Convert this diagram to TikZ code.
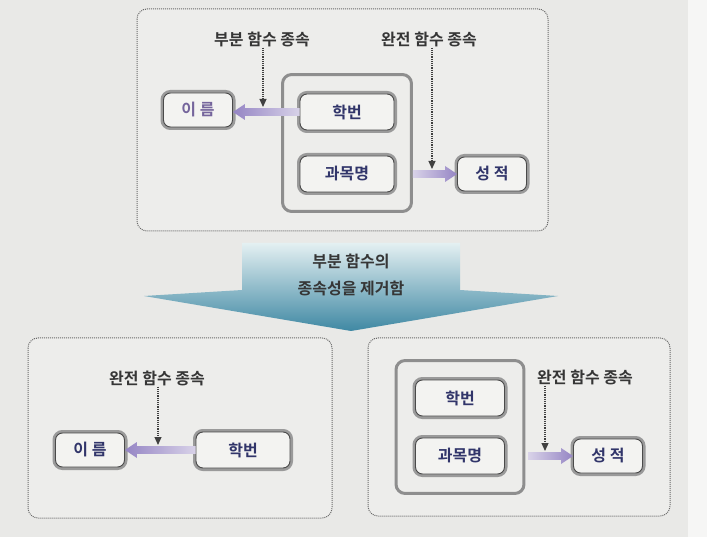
\documentclass[tikz,border=0pt]{standalone}
\usepackage{fontspec}
\usetikzlibrary{arrows.meta,calc,fit}
\newfontfamily\kr{Noto Sans CJK KR}[BoldFont={Noto Sans CJK KR Bold}]
\definecolor{bg}{HTML}{E9E9E7}
\definecolor{panelfill}{HTML}{EDEDEB}
\definecolor{panelline}{HTML}{6A6A6A}
\definecolor{boxfill}{HTML}{F3F3F1}
\definecolor{boxline}{HTML}{4A4A4A}
\definecolor{boxband}{HTML}{9A9A9A}
\definecolor{grpcol}{HTML}{8E8E8E}
\definecolor{navy}{HTML}{31356A}
\definecolor{lilac}{HTML}{75659C}
\definecolor{lbltext}{HTML}{363636}
\definecolor{dotcol}{HTML}{404040}
\definecolor{fatlight}{HTML}{D8D2E8}
\definecolor{fatdark}{HTML}{9585C4}
\definecolor{bigtop}{HTML}{E4F0F2}
\definecolor{bigmid}{HTML}{8DBFCC}
\definecolor{bigbot}{HTML}{3F88A3}
\newcommand\fatright[2]{%
  \shade[left color=fatlight, right color=fatdark]
    let \p1=(#1), \p2=(#2) in
    (\x1,\y1+3.8pt) -- (\x2-12pt,\y1+3.8pt) -- (\x2-12pt,\y1+8pt) -- (\x2,\y1)
    -- (\x2-12pt,\y1-8pt) -- (\x2-12pt,\y1-3.8pt) -- (\x1,\y1-3.8pt) -- cycle;}
\newcommand\fatleft[2]{%
  \shade[left color=fatdark, right color=fatlight]
    let \p1=(#1), \p2=(#2) in
    (\x1,\y1+3.8pt) -- (\x2+12pt,\y1+3.8pt) -- (\x2+12pt,\y1+8pt) -- (\x2,\y1)
    -- (\x2+12pt,\y1-8pt) -- (\x2+12pt,\y1-3.8pt) -- (\x1,\y1-3.8pt) -- cycle;}
\tikzset{
  keybox/.style={rectangle, rounded corners=7pt, fill=boxfill, draw=boxline,
    line width=0.9pt, preaction={draw=boxband, line width=6pt},
    font=\kr\bfseries\fontsize{16}{18}\selectfont, text=navy, inner sep=0pt},
  widebox/.style={keybox, minimum width=94pt, minimum height=36pt},
  narrowbox/.style={keybox, minimum width=69pt, minimum height=34pt},
  lbl/.style={font=\kr\bfseries\fontsize{16}{18}\selectfont, text=lbltext, inner sep=1pt},
  dotarrow/.style={draw=dotcol, line width=1.2pt, densely dotted,
    -{Triangle[length=8pt,width=7pt]}},
  groupbox/.style={draw=grpcol, line width=3pt, rounded corners=9pt,
    inner xsep=17pt, inner ysep=19pt},
  panel/.style={draw=panelline, line width=1pt, densely dotted, rounded corners=10pt, fill=panelfill},
}
\begin{document}
\begin{tikzpicture}[x=1pt,y=-1pt]
\fill[bg] (0,0) rectangle (707,537);
\fill[white!60!bg] (688,0) rectangle (707,537);
\useasboundingbox (0,0) rectangle (707,537);

% ---------- top panel ----------
\draw[panel] (137,9) rectangle (548,231);
\node[narrowbox, text=lilac] (ireum1) at (198,110) {이 름};
\node[widebox] (hak1) at (347,112) {학번};
\node[widebox] (gwa1) at (347,174) {과목명};
\node[groupbox, fit=(hak1)(gwa1)] (grp1) {};
\node[narrowbox] (grade1) at (492,174) {성 적};
\node[lbl] (lbl1) at (262,39) {부분 함수 종속};
\node[lbl] (lbl2) at (429,39) {완전 함수 종속};
\fatleft{hak1.west}{ireum1.east}
\fatright{grp1.east |- gwa1.center}{grade1.west}
\coordinate (d1) at (263,107);
\coordinate (d2) at (432,169);
\draw[dotarrow] (lbl1.south -| d1) -- (d1);
\draw[dotarrow] (lbl2.south -| d2) -- (d2);

% ---------- big arrow ----------
\shade[top color=bigtop, middle color=bigmid, bottom color=bigbot]
  (242,243) -- (460,243) -- (460,290) -- (558,296) -- (351,331)
  -- (144,296) -- (242,290) -- cycle;
\node[font=\kr\bfseries\fontsize{16}{27}\selectfont, text=lbltext, align=center]
  (bigtxt) at (351,275) {부분 함수의\\종속성을 제거함};

% ---------- bottom-left panel ----------
\draw[panel] (28,338) rectangle (332,518);
\node[narrowbox] (ireum2) at (90,450) {이 름};
\node[widebox] (hak2) at (243,450) {학번};
\node[lbl] (lbl3) at (157,378) {완전 함수 종속};
\fatleft{hak2.west}{ireum2.east}
\coordinate (d3) at (158,445);
\draw[dotarrow] (lbl3.south -| d3) -- (d3);

% ---------- bottom-right panel ----------
\draw[panel] (368,338) rectangle (670,516);
\node[widebox, minimum width=89pt] (hak3) at (460,398) {학번};
\node[widebox, minimum width=89pt] (gwa3) at (460,456) {과목명};
\node[groupbox, inner xsep=19pt, inner ysep=19pt, fit=(hak3)(gwa3)] (grp3) {};
\node[narrowbox] (grade3) at (608,456) {성 적};
\node[lbl] (lbl4) at (585,377) {완전 함수 종속};
\fatright{$(grp3.east |- gwa3.center)+(3,0)$}{grade3.west}
\coordinate (d4) at (545,451);
\draw[dotarrow] (lbl4.south -| d4) -- (d4);
\end{tikzpicture}
\end{document}
